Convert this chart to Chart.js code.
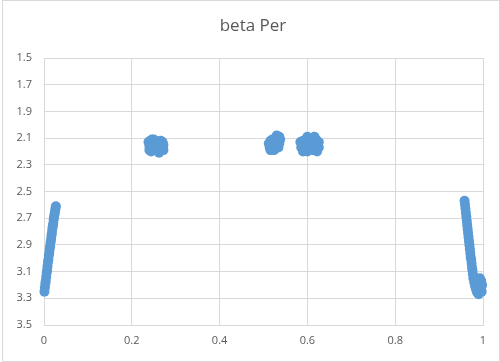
<!DOCTYPE html>
<html>
<head>
<meta charset="utf-8">
<script src="https://cdn.jsdelivr.net/npm/chart.js@4"></script>
<style>
  html, body { margin: 0; padding: 0; background: #fff; }
  #wrap { position: absolute; left: 2px; top: 0; width: 496px; height: 360px; border: 1px solid #d9d9d9; }
  #c { position: absolute; left: 0; top: 0; }
</style>
</head>
<body>
<div id="wrap"></div>
<canvas id="c" width="500" height="362"></canvas>
<script>
// beta vs Per
const leftX = [0.001, 0.002, 0.003, 0.004, 0.005, 0.006, 0.007, 0.008, 0.009, 0.010, 0.011, 0.012, 0.013,
               0.014, 0.015, 0.016, 0.017, 0.018, 0.019, 0.020, 0.021, 0.022, 0.023, 0.024, 0.025, 0.026, 0.027];
const leftY = [3.25, 3.22, 3.19, 3.17, 3.14, 3.11, 3.09, 3.06, 3.03, 3.01, 2.98, 2.96, 2.93,
               2.91, 2.88, 2.86, 2.83, 2.81, 2.78, 2.76, 2.74, 2.71, 2.69, 2.67, 2.65, 2.63, 2.61];

const blobAX = [0.238, 0.242, 0.246, 0.250, 0.254, 0.240, 0.246, 0.252, 0.240, 0.246, 0.252, 0.244];
const blobAY = [2.13, 2.12, 2.11, 2.11, 2.12, 2.16, 2.15, 2.15, 2.19, 2.19, 2.18, 2.20];

const blobBX = [0.258, 0.262, 0.266, 0.270, 0.272, 0.258, 0.264, 0.270, 0.260, 0.266, 0.272, 0.262];
const blobBY = [2.14, 2.13, 2.12, 2.13, 2.15, 2.17, 2.16, 2.17, 2.19, 2.19, 2.19, 2.21];

const blobCX = [0.512, 0.516, 0.520, 0.526, 0.532, 0.538, 0.514, 0.520, 0.528, 0.536, 0.516, 0.524, 0.534, 0.530, 0.536];
const blobCY = [2.14, 2.12, 2.11, 2.11, 2.10, 2.11, 2.17, 2.16, 2.15, 2.14, 2.19, 2.19, 2.17, 2.08, 2.09];

const blobDX = [0.584, 0.590, 0.596, 0.602, 0.608, 0.614, 0.620, 0.626, 0.586, 0.594, 0.602, 0.610, 0.618, 0.626,
                0.590, 0.600, 0.612, 0.622, 0.600, 0.616];
const blobDY = [2.13, 2.12, 2.11, 2.11, 2.12, 2.12, 2.11, 2.13, 2.17, 2.16, 2.16, 2.16, 2.15, 2.17,
                2.20, 2.20, 2.19, 2.20, 2.09, 2.09];

const rightX = [0.958, 0.959, 0.960, 0.961, 0.962, 0.963, 0.964, 0.965, 0.966, 0.967, 0.968, 0.969, 0.970, 0.971,
                0.972, 0.973, 0.974, 0.975, 0.976, 0.977, 0.978, 0.980, 0.982, 0.984, 0.986, 0.988,
                0.990, 0.993, 0.996, 0.998, 0.986, 0.992, 0.997, 0.990, 0.995];
const rightY = [2.57, 2.60, 2.63, 2.66, 2.69, 2.72, 2.75, 2.78, 2.81, 2.84, 2.87, 2.90, 2.93, 2.96,
                2.99, 3.01, 3.04, 3.07, 3.09, 3.12, 3.15, 3.18, 3.21, 3.23, 3.25, 3.26,
                3.16, 3.15, 3.17, 3.20, 3.20, 3.24, 3.25, 3.27, 3.22];

const xTicks = [0, 0.2, 0.4, 0.6, 0.8, 1];
const yTicks = [1.5, 1.7, 1.9, 2.1, 2.3, 2.5, 2.7, 2.9, 3.1, 3.3, 3.5];

const xs = [].concat(leftX, blobAX, blobBX, blobCX, blobDX, rightX);
const ys = [].concat(leftY, blobAY, blobBY, blobCY, blobDY, rightY);
const points = xs.map((x, i) => ({ x: x, y: ys[i] }));

const titlePlugin = {
  id: 'topTitle',
  afterDraw(chart) {
    const ctx = chart.ctx;
    ctx.save();
    ctx.font = '17px "Open Sans", sans-serif';
    ctx.fillStyle = '#595959';
    ctx.textAlign = 'center';
    ctx.textBaseline = 'middle';
    ctx.fillText('beta Per', 253, 26);
    ctx.restore();
  }
};

new Chart(document.getElementById('c'), {
  type: 'scatter',
  data: {
    datasets: [{
      label: 'beta',
      data: points,
      backgroundColor: '#5b9bd5',
      borderColor: '#5b9bd5',
      pointRadius: 5,
      pointBorderWidth: 0,
      clip: false
    }]
  },
  options: {
    responsive: false,
    animation: false,
    layout: { padding: { left: 0, top: 58, right: 17, bottom: 0 } },
    plugins: {
      legend: { display: false },
      tooltip: { enabled: false },
      title: { display: false }
    },
    scales: {
      x: {
        type: 'linear',
        min: 0,
        max: 1,
        afterBuildTicks(axis) { axis.ticks = xTicks.map(v => ({ value: v })); },
        afterFit(axis) { axis.height = 37; },
        grid: { color: '#d9d9d9', drawTicks: false },
        border: { color: '#d9d9d9' },
        ticks: {
          padding: 9,
          color: '#595959',
          font: { family: '"Open Sans", sans-serif', size: 11 },
          callback: v => String(v)
        }
      },
      y: {
        type: 'linear',
        reverse: true,
        min: 1.5,
        max: 3.5,
        afterBuildTicks(axis) { axis.ticks = yTicks.map(v => ({ value: v })); },
        afterFit(axis) { axis.width = 44; },
        grid: { color: '#d9d9d9', drawTicks: false },
        border: { color: '#d9d9d9' },
        ticks: {
          padding: 12,
          color: '#595959',
          font: { family: '"Open Sans", sans-serif', size: 11 },
          callback: v => v.toFixed(1)
        }
      }
    }
  },
  plugins: [titlePlugin]
});
</script>
</body>
</html>
